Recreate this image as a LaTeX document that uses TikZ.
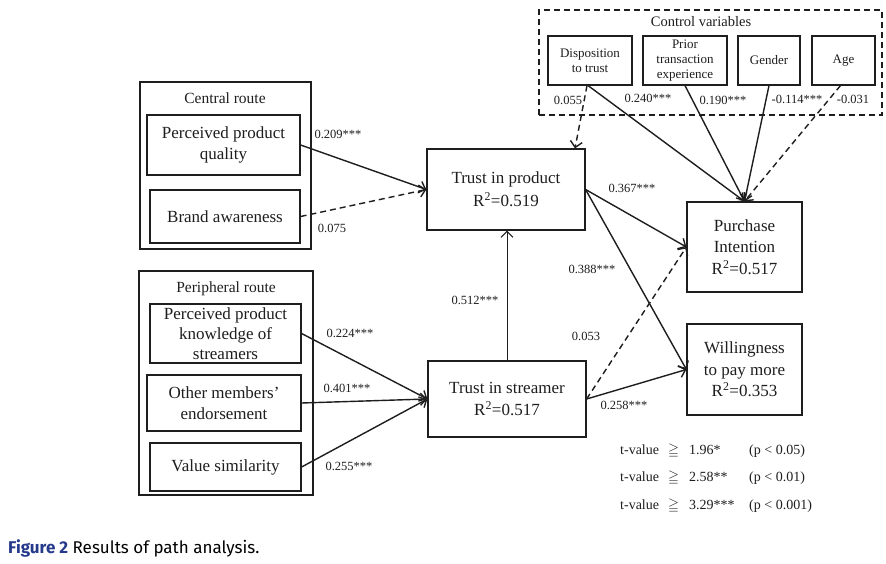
\documentclass[tikz,border=0pt]{standalone}
\usepackage{fontspec}
\usepackage{amssymb}
\setmainfont{Liberation Serif}
\newfontfamily\capfont{Fira Sans}
\usetikzlibrary{arrows.meta}
\definecolor{capblue}{RGB}{38,58,140}
\definecolor{ink}{RGB}{30,30,30}
\tikzset{
  box/.style={draw=ink, line width=1.2pt, inner sep=0pt, align=center, text=ink,
    font=\fontsize{17}{21.5}\selectfont},
  cbox/.style={draw=ink, line width=1.1pt, inner sep=0pt, align=center, text=ink,
    font=\fontsize{13}{15}\selectfont},
  frame/.style={draw=ink, line width=1.3pt, inner sep=0pt},
  ctrlframe/.style={draw=ink, line width=1.3pt, dash pattern=on 6pt off 4pt, inner sep=0pt},
  ttl/.style={text=ink, font=\fontsize{15.5}{18}\selectfont},
  lbl/.style={text=ink, font=\fontsize{12.5}{14}\selectfont, inner sep=0pt},
  path/.style={draw=ink, line width=1.4pt, -{Straight Barb[length=6pt,width=12pt]}},
  dpath/.style={path, dash pattern=on 6pt off 4pt},
  leg/.style={text=ink, font=\fontsize{14}{16}\selectfont, inner sep=0pt, anchor=base west},
}
\begin{document}
\begin{tikzpicture}[x=1pt,y=-1pt]
\useasboundingbox[fill=white] (0,0) rectangle (886,564);

% control variables
\node[ctrlframe, minimum width=343pt, minimum height=105pt] (ctrl) at (710.5,62.5) {};
\node[ttl, font=\fontsize{14.5}{17}\selectfont] (ctrlt) at (701,22) {Control variables};
\node[cbox, minimum width=84pt, minimum height=49pt] (disp) at (590,60.5) {Disposition\\to trust};
\node[cbox, minimum width=84pt, minimum height=49pt] (prior) at (685,60.5) {Prior\\transaction\\experience};
\node[cbox, minimum width=62pt, minimum height=49pt] (gender) at (769,60.5) {Gender};
\node[cbox, minimum width=63pt, minimum height=49pt] (age) at (843.5,60.5) {Age};

% central route
\node[frame, minimum width=171pt, minimum height=167pt] (central) at (225.5,165.5) {};
\node[ttl] (centralt) at (225,98) {Central route};
\node[box, minimum width=153pt, minimum height=60pt] (ppq) at (223.5,145) {Perceived product\\quality};
\node[box, minimum width=150pt, minimum height=53pt] (ba) at (225,216.5) {Brand awareness};

% peripheral route
\node[frame, minimum width=174pt, minimum height=224pt] (periph) at (226,383) {};
\node[ttl] (periphtt) at (226,289) {Peripheral route};
\node[box, minimum width=151pt, minimum height=59pt, font=\fontsize{17}{20.3}\selectfont] (ppk) at (225.5,333.5) {Perceived product\\knowledge of\\streamers};
\node[box, minimum width=154pt, minimum height=56pt] (ome) at (224,403) {Other members'\\endorsement};
\node[box, minimum width=151pt, minimum height=48pt] (vs) at (225.5,467) {Value similarity};

% constructs
\node[box, minimum width=158pt, minimum height=81pt, font=\fontsize{17}{23}\selectfont] (tip) at (506,189.5) {Trust in product\\R\textsuperscript{2}=0.519};
\node[box, minimum width=158pt, minimum height=76pt, font=\fontsize{17}{22}\selectfont] (tis) at (507,399) {Trust in streamer\\R\textsuperscript{2}=0.517};
\node[box, minimum width=115pt, minimum height=90pt] (pi) at (744.5,247) {Purchase\\Intention\\R\textsuperscript{2}=0.517};
\node[box, minimum width=115pt, minimum height=91pt] (wpm) at (744.5,369.5) {Willingness\\to pay more\\R\textsuperscript{2}=0.353};

% paths
\draw[path] (ppq.east) -- (tip.west);
\draw[dpath] (ba.east) -- (tip.west);
\draw[path] (ppk.east) -- (tis.west);
\draw[path] (ome.east) -- (tis.west);
\draw[path] (vs.east) -- (tis.west);
\draw[path, line width=1pt] (tis.north) -- (tis.north |- tip.south);
\draw[path] (tip.east) -- (pi.west);
\draw[path] (tip.east) -- (wpm.west);
\draw[dpath] (tis.east) -- (pi.west);
\draw[path] (tis.east) -- (wpm.west);
\draw[dpath] ([xshift=-3pt]disp.south) -- ([xshift=69pt]tip.north);
\draw[path] ([xshift=-2pt]disp.south) -- (pi.north);
\draw[path] (prior.south) -- (pi.north);
\draw[path] (gender.south) -- (pi.north);
\draw[dpath] ([xshift=-3pt]age.south) -- (pi.north);

% path labels
\node[lbl] (l1) at (338,134) {0.209***};
\node[lbl] (l2) at (332,228) {0.075};
\node[lbl] (l3) at (350,333) {0.224***};
\node[lbl] (l4) at (347,388) {0.401***};
\node[lbl] (l5) at (349,466) {0.255***};
\node[lbl] (l6) at (475,300) {0.512***};
\node[lbl] (l7) at (632,188) {0.367***};
\node[lbl] (l8) at (592,269) {0.388***};
\node[lbl] (l9) at (586,336) {0.053};
\node[lbl] (l10) at (624,405) {0.258***};
\node[lbl] (c1) at (568,100) {0.055};
\node[lbl] (c2) at (648,98) {0.240***};
\node[lbl] (c3) at (723,100) {0.190***};
\node[lbl] (c4) at (797,99) {-0.114***};
\node[lbl] (c5) at (853,99) {-0.031};

% legend
\foreach \i/\yy/\v/\p in {1/454/1.96*/0.05, 2/481/2.58**/0.01, 3/509/3.29***/0.001}{
  \node[leg] (lt\i) at (620,\yy) {t-value};
  \node[leg] (lg\i) at (668,\yy) {$\geqq$};
  \node[leg] (lv\i) at (689,\yy) {\v};
  \node[leg] (lp\i) at (749,\yy) {(p < \p)};
}

% caption
\node[anchor=base west, inner sep=0pt, font=\capfont\fontsize{17}{20}\selectfont] (cap) at (8,553)
  {{\color{capblue}\bfseries Figure 2} Results of path analysis.};
\end{tikzpicture}
\end{document}
